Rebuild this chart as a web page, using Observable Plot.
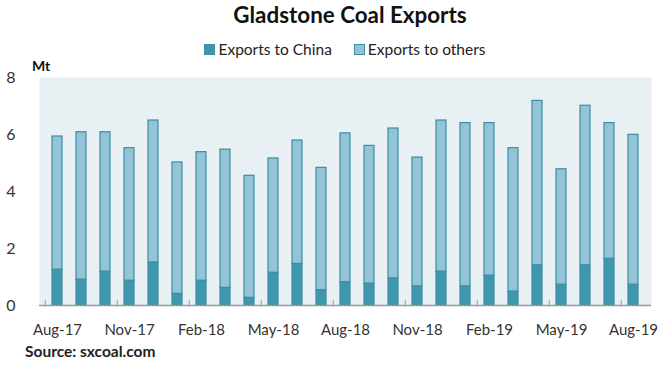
<!DOCTYPE html>
<html>
<head>
<meta charset="utf-8">
<script src="https://cdn.jsdelivr.net/npm/d3@7"></script>
<script src="https://cdn.jsdelivr.net/npm/@observablehq/plot@0.6"></script>
<style>
  body { margin: 0; background: #fff; font-family: Lato, "Open Sans", sans-serif; }
  #wrap { position: relative; width: 670px; height: 367px; overflow: hidden; }
  #title { position: absolute; top: 0px; left: 0; width: 700px; text-align: center; font-weight: bold; font-size: 22.4px; line-height: 30px; color: #111; }
  #legend { position: absolute; top: 39px; left: 0; width: 690px; text-align: center; font-size: 15.5px; line-height: 20px; color: #222; }
  #legend span.item { margin: 0 11px; }
  #legend span.sw { display: inline-block; width: 11px; height: 11px; vertical-align: 0px; margin-right: 3px; box-sizing: border-box; }
  #unit { position: absolute; top: 58px; left: 32px; font-weight: bold; font-size: 14px; line-height: 16px; color: #111; }
  #source { position: absolute; top: 342px; left: 25px; font-weight: bold; font-size: 15.5px; line-height: 18px; color: #222; }
  #chart { position: absolute; top: 58px; left: 0; }
</style>
</head>
<body>
<div id="wrap">
  <div id="title">Gladstone Coal Exports</div>
  <div id="legend"></div>
  <div id="unit">Mt</div>
  <div id="chart"></div>
  <div id="source">Source: sxcoal.com</div>
</div>
<script>
const months = ["Aug-17","Sep-17","Oct-17","Nov-17","Dec-17","Jan-18","Feb-18","Mar-18","Apr-18","May-18","Jun-18","Jul-18",
  "Aug-18","Sep-18","Oct-18","Nov-18","Dec-18","Jan-19","Feb-19","Mar-19","Apr-19","May-19","Jun-19","Jul-19","Aug-19"];
const toChina = [1.26,0.91,1.19,0.87,1.51,0.41,0.87,0.62,0.27,1.15,1.46,0.54,0.82,0.77,0.95,0.67,1.19,0.67,1.05,0.49,1.41,0.73,1.41,1.64,0.73];
const toOthers = [4.67,5.17,4.89,4.65,4.98,4.61,4.51,4.85,4.28,4.01,4.33,4.29,5.22,4.83,5.26,4.52,5.30,5.73,5.35,5.03,5.77,4.05,5.60,4.76,5.26];
const seriesNames = ["Exports to China","Exports to others"];
const seriesColors = ["#3f97ad","#93c4d5"];
const strokeColor = "#3b8ea4";
const xTickLabels = ["Aug-17","Nov-17","Feb-18","May-18","Aug-18","Nov-18","Feb-19","May-19","Aug-19"];
const yTicks = [0,2,4,6,8];

const rows = [];
months.forEach((m, i) => {
  rows.push({month: m, series: seriesNames[0], value: toChina[i]});
  rows.push({month: m, series: seriesNames[1], value: toOthers[i]});
});

// legend
const leg = document.getElementById("legend");
seriesNames.forEach((s, i) => {
  const it = document.createElement("span");
  it.className = "item";
  it.innerHTML = `<span class="sw" style="background:${seriesColors[i]};border:1px solid ${strokeColor}"></span>${s}`;
  leg.appendChild(it);
});

const width = 670, height = 282;
const marginLeft = 39, marginRight = 19, marginTop = 19, marginBottom = 35;
const step = (width - marginLeft - marginRight) / months.length;

const plot = Plot.plot({
  width, height, marginLeft, marginRight, marginTop, marginBottom,
  style: {fontFamily: "Lato, 'Open Sans', sans-serif", background: "transparent"},
  x: {type: "band", domain: months, paddingInner: 0.58, paddingOuter: 0.29, align: 0.5},
  y: {domain: [0, 8]},
  color: {domain: seriesNames, range: seriesColors},
  marks: [
    Plot.frame({fill: "#e8f0f4", stroke: null}),
    Plot.barY(rows, Plot.stackY({order: seriesNames, x: "month", y: "value", fill: "series", stroke: strokeColor, strokeWidth: 1.2, inset: 0})),
    Plot.ruleY([0], {stroke: "#9a9a9a", strokeWidth: 1.5}),
    Plot.ruleX(months.filter((m, i) => i % 3 === 0), {x: d => d, dx: -step / 2, y1: 0, y2: 0.18, stroke: "#9a9a9a", strokeWidth: 1}),
    Plot.axisX({ticks: xTickLabels, tickSize: 0, tickPadding: 19, fontSize: 15, color: "#333", label: null}),
    Plot.axisY({ticks: yTicks, tickSize: 0, tickPadding: 24, fontSize: 16, color: "#333", label: null})
  ]
});
document.getElementById("chart").appendChild(plot);
</script>
</body>
</html>
